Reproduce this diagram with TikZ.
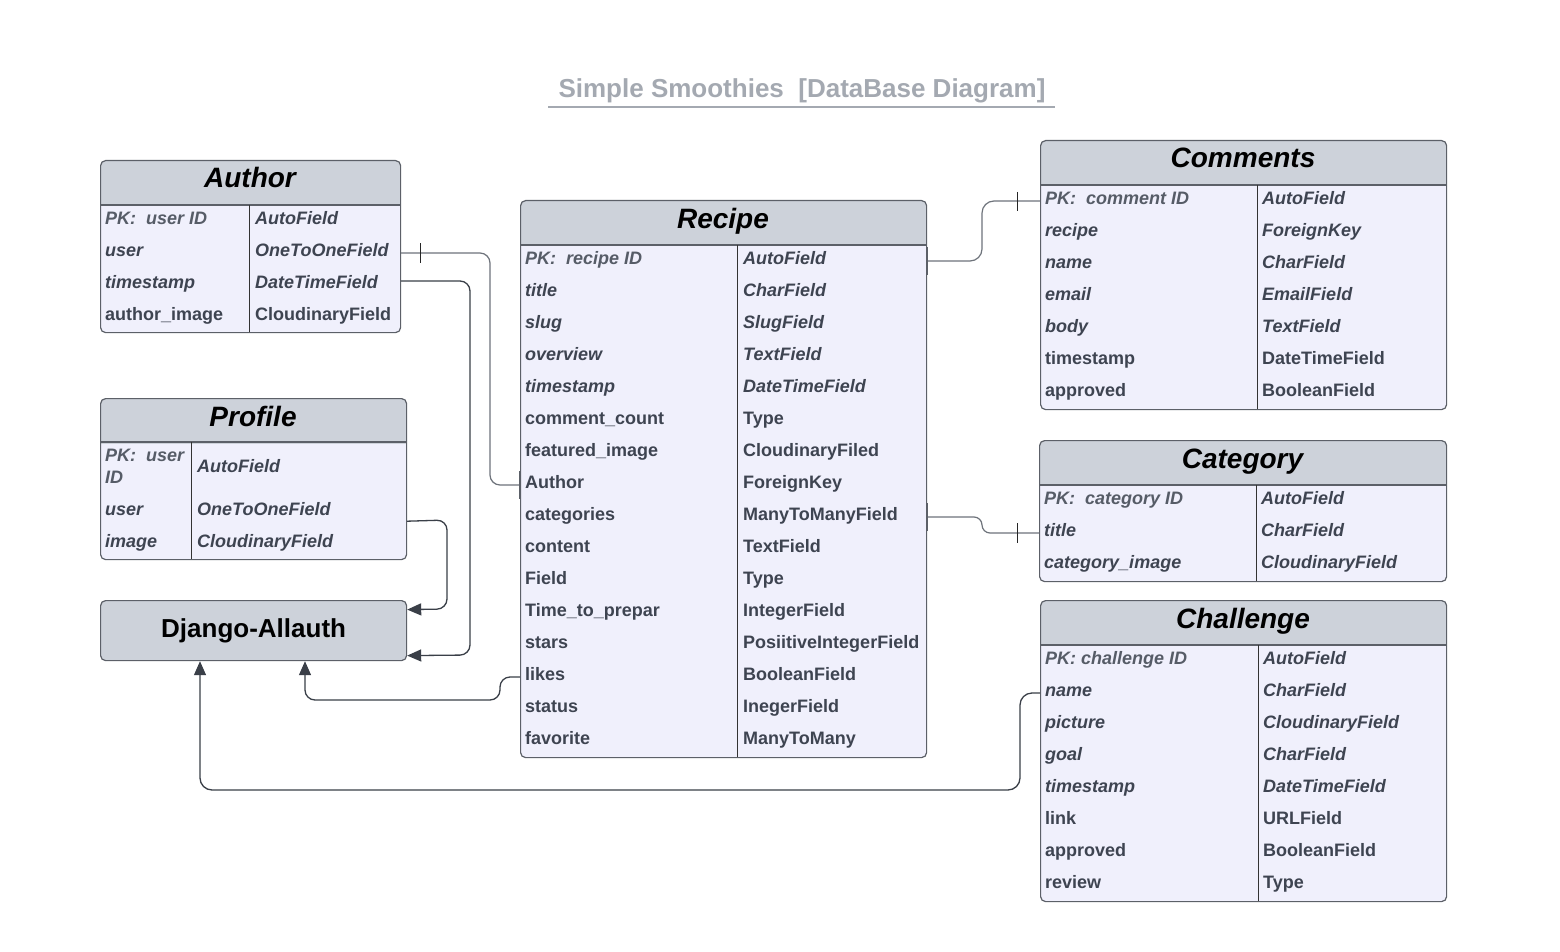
\documentclass[tikz,border=0pt]{standalone}
\usepackage{fontspec}
\setmainfont{Liberation Sans}
\usetikzlibrary{arrows.meta,calc}
\definecolor{hdrc}{HTML}{CDD2DA}
\definecolor{bodyc}{HTML}{F0F0FC}
\definecolor{bdc}{HTML}{5C6068}
\definecolor{txtc}{HTML}{3E4451}
\definecolor{pkc}{HTML}{565C67}
\definecolor{titc}{HTML}{A4A9B1}
\definecolor{conc}{HTML}{6E737B}
\definecolor{darkc}{HTML}{3A3F48}
\newcommand\myit{\itshape}
\newcommand\myup{\upshape}
\newcommand\mypk{\itshape\color{pkc}}
\tikzset{
 tbl/.style={draw=bdc, line width=1.2pt, fill=bodyc, rounded corners=5pt, inner sep=0pt, anchor=north west,
   path picture={\fill[hdrc, sharp corners] (path picture bounding box.north west) rectangle ([yshift=-45pt]path picture bounding box.north east);}},
 ttl/.style={font=\fontsize{28}{30}\selectfont\bfseries\itshape, text=black, inner sep=0pt, anchor=base},
 fb/.style={font=\fontsize{18}{20}\selectfont\bfseries, text=txtc, inner sep=0pt},
 hline/.style={draw=bdc, line width=1.2pt},
 divl/.style={draw=black!80, line width=1pt},
 conn/.style={draw=darkc, line width=1.3pt, rounded corners=10pt},
 connl/.style={draw=conc, line width=1.2pt, rounded corners=10pt},
 arr/.style={-{Triangle[length=14pt,width=12pt]}},
 tickmark/.style={draw=black!85, line width=1pt},
 barmark/.style={draw=bdc, line width=2.2pt}
}
\newcommand\rowsat[5]{%
 \foreach[count=\i] \a/\b/\styL/\styR in {#5} {
   \coordinate (#1-c\i) at (#2, #4+32*\i-32);
   \node[fb, anchor=base west] (#1-l\i) at (#2, #4+3.5+32*\i-32) {\styL\a};
   \node[fb, anchor=base west] (#1-r\i) at (#3, #4+3.5+32*\i-32) {\styR\b};
 }}
\begin{document}
\begin{tikzpicture}[x=1pt,y=-1pt]
\useasboundingbox[fill=white] (0,0) rectangle (1560,952);

% title
\node[font=\fontsize{26}{28}\selectfont\bfseries, text=titc, anchor=base, inner sep=0pt] (title) at (802,98) {Simple Smoothies\ \ [DataBase Diagram]};
\coordinate (ula) at (548,107);
\coordinate (ulb) at (1055,107);
\draw[titc, line width=2pt] (ula) -- (ulb);

% Author
\node[tbl, minimum width=300pt, minimum height=172pt] (author) at (100,160) {};
\node[ttl] (author-t) at (250,188) {Author};
\draw[hline] (100,205) -- (400,205);
\draw[divl] (249,205) -- (249,332);
\rowsat{author}{105}{255}{221}{{PK:\ \ user ID}/AutoField/\mypk/\myit, user/OneToOneField/\myit/\myit, timestamp/DateTimeField/\myit/\myit, author\_image/CloudinaryField/\myup/\myup}

% Profile
\node[tbl, minimum width=306pt, minimum height=161pt] (profile) at (100,398) {};
\node[ttl] (profile-t) at (253,426) {Profile};
\draw[hline] (100,442) -- (406,442);
\draw[divl] (191,442) -- (191,559);
\node[fb, anchor=base west] (profile-l1) at (105,461.5) {\mypk PK:\ \ user};
\node[fb, anchor=base west] (profile-l1b) at (105,483.5) {\mypk ID};
\node[fb, anchor=base west] (profile-r1) at (197,472.5) {\myit AutoField};
\node[fb, anchor=base west] (profile-l2) at (105,515.5) {\myit user};
\node[fb, anchor=base west] (profile-r2) at (197,515.5) {\myit OneToOneField};
\node[fb, anchor=base west] (profile-l3) at (105,547.5) {\myit image};
\node[fb, anchor=base west] (profile-r3) at (197,547.5) {\myit CloudinaryField};

% Django-Allauth
\node[draw=bdc, line width=1.2pt, fill=hdrc, rounded corners=5pt, minimum width=306pt, minimum height=60pt, anchor=north west, font=\fontsize{26}{28}\selectfont\bfseries, text=black] (django) at (100,600) {Django-Allauth};

% Recipe
\node[tbl, minimum width=406pt, minimum height=557pt] (recipe) at (520,200) {};
\node[ttl] (recipe-t) at (723,228) {Recipe};
\draw[hline] (520,245) -- (926,245);
\draw[divl] (737,245) -- (737,757);
\rowsat{recipe}{525}{743}{261}{{PK:\ \ recipe ID}/AutoField/\mypk/\myit, title/CharField/\myit/\myit, slug/SlugField/\myit/\myit, overview/TextField/\myit/\myit, timestamp/DateTimeField/\myit/\myit, comment\_count/Type/\myup/\myup, featured\_image/CloudinaryFiled/\myup/\myup, Author/ForeignKey/\myup/\myup, categories/ManyToManyField/\myup/\myup, content/TextField/\myup/\myup, Field/Type/\myup/\myup, Time\_to\_prepar/IntegerField/\myup/\myup, stars/PosiitiveIntegerField/\myup/\myup, likes/BooleanField/\myup/\myup, status/InegerField/\myup/\myup, favorite/ManyToMany/\myup/\myup}

% Comments
\node[tbl, minimum width=406pt, minimum height=269pt] (comments) at (1040,140) {};
\node[ttl] (comments-t) at (1243,168) {Comments};
\draw[hline] (1040,185) -- (1446,185);
\draw[divl] (1257,185) -- (1257,409);
\rowsat{comments}{1045}{1262}{201}{{PK:\ \ comment ID}/AutoField/\mypk/\myit, recipe/ForeignKey/\myit/\myit, name/CharField/\myit/\myit, email/EmailField/\myit/\myit, body/TextField/\myit/\myit, timestamp/DateTimeField/\myup/\myup, approved/BooleanField/\myup/\myup}

% Category
\node[tbl, minimum width=407pt, minimum height=141pt] (category) at (1039,440) {};
\node[ttl] (category-t) at (1242.5,468) {Category};
\draw[hline] (1039,485) -- (1446,485);
\draw[divl] (1256,485) -- (1256,581);
\rowsat{category}{1044}{1261}{501}{{PK:\ \ category ID}/AutoField/\mypk/\myit, title/CharField/\myit/\myit, category\_image/CloudinaryField/\myit/\myit}

% Challenge
\node[tbl, minimum width=406pt, minimum height=301pt] (challenge) at (1040,600) {};
\node[ttl] (challenge-t) at (1243,628) {Challenge};
\draw[hline] (1040,645) -- (1446,645);
\draw[divl] (1258,645) -- (1258,901);
\rowsat{challenge}{1045}{1263}{661}{{PK: challenge ID}/AutoField/\mypk/\myit, name/CharField/\myit/\myit, picture/CloudinaryField/\myit/\myit, goal/CharField/\myit/\myit, timestamp/DateTimeField/\myit/\myit, link/URLField/\myup/\myup, approved/BooleanField/\myup/\myup, review/Type/\myup/\myup}

% connectors
\draw[connl] (author.east |- author-c2) -- (490,253) -- (490,485) -- (recipe.west |- recipe-c8);
\draw[tickmark] (420,243) -- (420,263);
\draw[barmark] (520,471) -- (520,499);

\draw[conn, arr] ($(author.east |- author-c3)+(0,-4)$) -- (470,281) -- (470,655) -- ($(django.east)+(0,25)$);
\draw[conn, arr] ($(profile.south east)+(0,-39)$) -- (447,520) -- (447,609) -- ($(django.east)+(0,-21)$);
\draw[conn, arr] (recipe.west |- recipe-c14) -- (500,677) -- (500,700) -- (305,700) -- ($(django.south west)+(205,0)$);
\draw[conn, arr, rounded corners=12pt] (challenge.west |- challenge-c2) -- (1020,693) -- (1020,790) -- (200,790) -- ($(django.south west)+(100,0)$);

\draw[connl, rounded corners=12pt] (recipe.east |- recipe-c1) -- (982,261) -- (982,201) -- (comments.west |- comments-c1);
\draw[tickmark] (1017,192) -- (1017,211);
\draw[barmark] (927,247) -- (927,275);

\draw[connl, rounded corners=8pt] (recipe.east |- recipe-c9) -- (982,517) -- (982,533) -- (category.west |- category-c2);
\draw[tickmark] (1017,523) -- (1017,543);
\draw[barmark] (927,503) -- (927,531);
\end{tikzpicture}
\end{document}
